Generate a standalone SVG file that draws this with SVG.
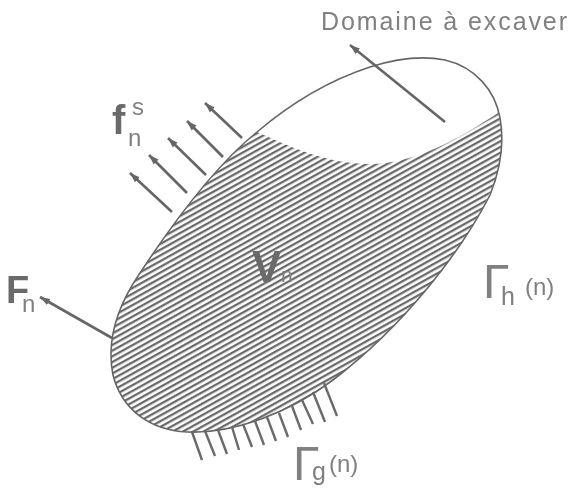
<svg xmlns="http://www.w3.org/2000/svg" width="569" height="488" viewBox="0 0 569 488">
<style>
.t{font-family:"Liberation Sans",Arial,sans-serif;fill:#808080}
.b{font-family:"Liberation Sans",Arial,sans-serif;font-weight:bold;fill:#6a6a6a}
.a{stroke:#666;stroke-width:2.6;fill:none;marker-end:url(#ah)}
.k{stroke:#6a6a6a;stroke-width:2.4;fill:none}
</style>
<defs>
<marker id="ah" markerUnits="userSpaceOnUse" markerWidth="12" markerHeight="10" refX="10" refY="4" orient="auto"><path d="M0 0.5L10 4L0 7.5Z" fill="#666"/></marker>
<pattern id="h" patternUnits="userSpaceOnUse" width="5" height="5" patternTransform="rotate(-29)"><rect width="5" height="5" fill="#fff"/><rect width="5" height="2.3" fill="#6a6a6a"/></pattern>
<filter id="s" x="-5%" y="-5%" width="110%" height="110%"><feGaussianBlur stdDeviation="0.55"/></filter>
</defs>
<rect width="569" height="488" fill="#fff"/>
<g filter="url(#s)">
<g id="domaine-hachure">
<path fill="url(#h)" d="M257 132C297 150 330 164 370 164C415 164 460 138 498 113C503 128 503 148 498 170C480 235 405 325 333 380C290 412 235 434 187 432C150 430 122 410 113 375C106 340 118 305 140 273C165 235 210 170 257 132Z"/>
</g>
<g id="contour">
<path fill="none" stroke="#666" stroke-width="1.6" d="M257 132C290 104 330 80 370 67C395 59 420 55 445 60C475 67 495 90 500 118C505 145 500 170 490 195C462 250 405 325 333 380C290 412 235 434 187 432C150 430 122 410 113 375C106 340 118 305 140 273C165 235 210 170 257 132Z"/>
</g>
<g id="connecteurs">
<path class="a" d="M242 138L205 103"/>
<path class="a" d="M223 157L187 121"/>
<path class="a" d="M206 175L168 138"/>
<path class="a" d="M187 193L149 155"/>
<path class="a" d="M172 212L130 173"/>
<path class="a" d="M445 122L350 45"/>
<path class="a" d="M112 338L40 297"/>
<path class="k" d="M192 432L202 460M205 431L215 456M218 430L227 454M232 427L239 450M243 424L252 447M255 421L264 445M267 417L276 441M279 413L288 437M292 406L301 430M302 400L313 424M313 392L325 422M324 383L337 416"/>
</g>
<g id="libelles">
<text class="t" x="321" y="30" font-size="25" textLength="246" lengthAdjust="spacing">Domaine à excaver</text>
<text class="b" x="112" y="134" font-size="40">f</text>
<text class="t" x="132" y="115" font-size="24">s</text>
<text class="t" x="128" y="146" font-size="24">n</text>
<text class="b" x="6" y="303" font-size="38">F</text>
<text class="t" x="22" y="312" font-size="24">n</text>
<text class="b" x="252" y="282" font-size="44">V</text>
<text class="t" x="281" y="282" font-size="21">n</text>
<text class="t" x="483" y="298" font-size="48">Γ</text>
<text class="t" x="501" y="305" font-size="25">h</text>
<text class="t" x="525" y="295" font-size="24">(n)</text>
<text class="t" x="293" y="480" font-size="48">Γ</text>
<text class="t" x="312" y="480" font-size="25">g</text>
<text class="t" x="329" y="472" font-size="24">(n)</text>
</g>
</g>
</svg>
